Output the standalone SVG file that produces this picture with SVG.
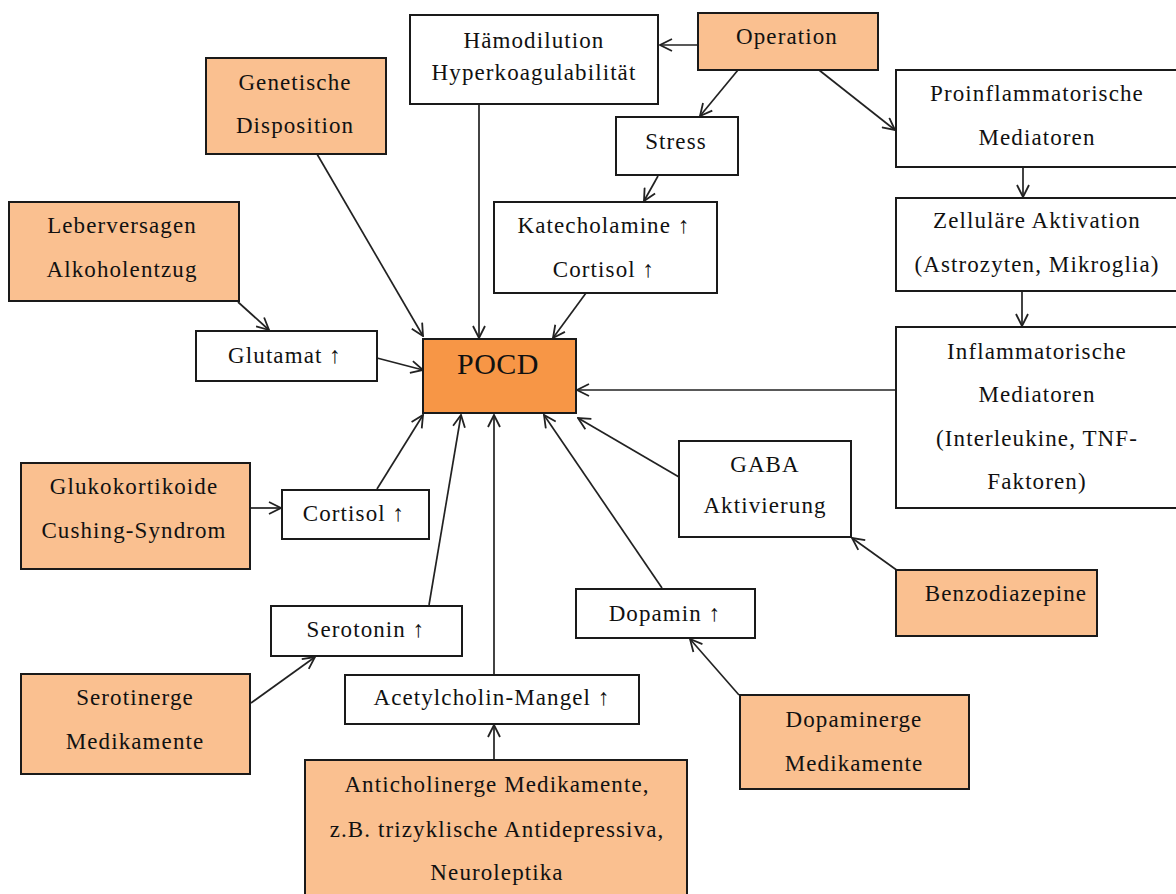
<svg xmlns="http://www.w3.org/2000/svg" width="1176" height="894" viewBox="0 0 1176 894">
<style>
.b{fill:#fff;stroke:#1a1a1a;stroke-width:2}
.o{fill:#FAC090;stroke:#1a1a1a;stroke-width:2}
.p{fill:#F79646;stroke:#1a1a1a;stroke-width:2}
text{font-family:"Liberation Serif","Times New Roman",serif;font-size:23px;fill:#111;text-anchor:middle;letter-spacing:1.1px}
.big{font-size:30px;letter-spacing:0.5px}
#edges line{stroke:#222;stroke-width:1.7;marker-end:url(#ah)}
</style>
<defs>
<marker id="ah" viewBox="0 0 14 14" refX="13" refY="7" markerWidth="14" markerHeight="14" markerUnits="userSpaceOnUse" orient="auto">
<path d="M1,1 L13,7 L1,13" fill="none" stroke="#222" stroke-width="1.8"/>
</marker>
</defs>
<rect width="1176" height="894" fill="#fff"/>
<g id="edges">
<line x1="698" y1="45" x2="660" y2="45"/>
<line x1="738" y1="70" x2="700" y2="116"/>
<line x1="819" y1="70" x2="895" y2="130"/>
<line x1="658" y1="176" x2="644" y2="201"/>
<line x1="479" y1="104" x2="479" y2="338"/>
<line x1="317" y1="154" x2="423" y2="336"/>
<line x1="586" y1="293" x2="553" y2="338"/>
<line x1="238" y1="302" x2="269" y2="330"/>
<line x1="377" y1="358" x2="423" y2="370"/>
<line x1="1023" y1="167" x2="1023" y2="197"/>
<line x1="1022" y1="291" x2="1022" y2="326"/>
<line x1="896" y1="390" x2="577" y2="390"/>
<line x1="679" y1="477" x2="578" y2="418"/>
<line x1="898" y1="571" x2="852" y2="538"/>
<line x1="250" y1="508" x2="281" y2="508"/>
<line x1="377" y1="489" x2="423" y2="415"/>
<line x1="429" y1="605" x2="461" y2="415"/>
<line x1="251" y1="703" x2="315" y2="657"/>
<line x1="494" y1="675" x2="494" y2="415"/>
<line x1="494" y1="760" x2="494" y2="725"/>
<line x1="662" y1="588" x2="544" y2="415"/>
<line x1="739" y1="695" x2="690" y2="639"/>
</g>
<g id="n-haemodilution"><rect class="b" x="410" y="15" width="248" height="89"/><text x="534" y="48">Hämodilution</text><text x="534" y="80">Hyperkoagulabilität</text></g>
<g id="n-operation"><rect class="o" x="698" y="13" width="180" height="57"/><text x="787" y="44">Operation</text></g>
<g id="n-genetische"><rect class="o" x="206" y="58" width="180" height="96"/><text x="295" y="90">Genetische</text><text x="295" y="133">Disposition</text></g>
<g id="n-stress"><rect class="b" x="616" y="117" width="122" height="58"/><text x="676" y="149">Stress</text></g>
<g id="n-proinflammatorisch"><rect class="b" x="896" y="70" width="284" height="97"/><text x="1037" y="101">Proinflammatorische</text><text x="1037" y="145">Mediatoren</text></g>
<g id="n-katecholamine"><rect class="b" x="494" y="202" width="223" height="91"/><text x="604" y="233">Katecholamine ↑</text><text x="604" y="277">Cortisol ↑</text></g>
<g id="n-zellulaer"><rect class="b" x="896" y="198" width="284" height="93"/><text x="1037" y="228">Zelluläre Aktivation</text><text x="1037" y="272">(Astrozyten, Mikroglia)</text></g>
<g id="n-leberversagen"><rect class="o" x="9" y="202" width="230" height="99"/><text x="122" y="233">Leberversagen</text><text x="122" y="277">Alkoholentzug</text></g>
<g id="n-glutamat"><rect class="b" x="196" y="331" width="181" height="50"/><text x="285" y="363">Glutamat ↑</text></g>
<g id="n-pocd"><rect class="p" x="423" y="339" width="153" height="74"/><text class="big" x="498" y="374">POCD</text></g>
<g id="n-inflammatorisch"><rect class="b" x="896" y="327" width="284" height="181"/><text x="1037" y="359">Inflammatorische</text><text x="1037" y="402">Mediatoren</text><text x="1037" y="446">(Interleukine, TNF-</text><text x="1037" y="489">Faktoren)</text></g>
<g id="n-gaba"><rect class="b" x="679" y="441" width="172" height="96"/><text x="765" y="472">GABA</text><text x="765" y="513">Aktivierung</text></g>
<g id="n-glukokortikoide"><rect class="o" x="21" y="463" width="229" height="106"/><text x="134" y="494">Glukokortikoide</text><text x="134" y="538">Cushing-Syndrom</text></g>
<g id="n-cortisol"><rect class="b" x="282" y="490" width="147" height="49"/><text x="354" y="521">Cortisol ↑</text></g>
<g id="n-serotonin"><rect class="b" x="271" y="606" width="191" height="50"/><text x="366" y="637">Serotonin ↑</text></g>
<g id="n-dopamin"><rect class="b" x="576" y="589" width="179" height="49"/><text x="665" y="621">Dopamin ↑</text></g>
<g id="n-benzodiazepine"><rect class="o" x="896" y="570" width="201" height="66"/><text x="1006" y="601">Benzodiazepine</text></g>
<g id="n-serotinerge"><rect class="o" x="21" y="674" width="229" height="100"/><text x="135" y="705">Serotinerge</text><text x="135" y="749">Medikamente</text></g>
<g id="n-acetylcholin"><rect class="b" x="345" y="675" width="294" height="49"/><text x="492" y="705">Acetylcholin-Mangel ↑</text></g>
<g id="n-dopaminerge"><rect class="o" x="740" y="695" width="229" height="94"/><text x="854" y="727">Dopaminerge</text><text x="854" y="771">Medikamente</text></g>
<g id="n-anticholinerge"><rect class="o" x="305" y="760" width="382" height="140"/><text x="497" y="792">Anticholinerge Medikamente,</text><text x="497" y="837">z.B. trizyklische Antidepressiva,</text><text x="497" y="880">Neuroleptika</text></g>
</svg>
